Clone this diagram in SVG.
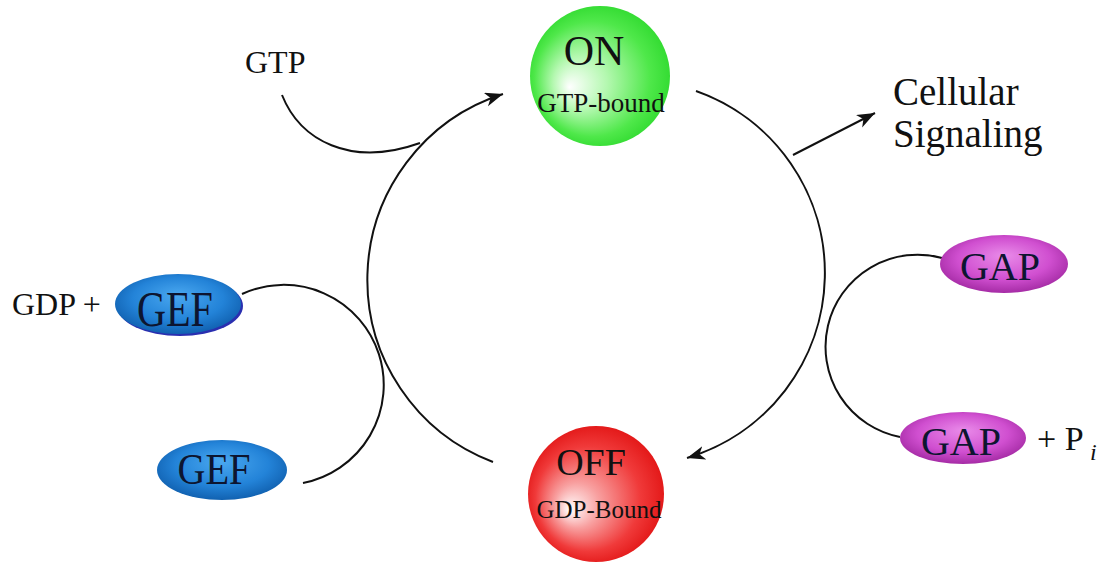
<svg xmlns="http://www.w3.org/2000/svg" width="1104" height="562" viewBox="0 0 1104 562">
<style>
  .t { font-family: "Liberation Serif", "Times New Roman", serif; fill: #111; }
  .c { fill: none; stroke: #111; stroke-width: 2; }
  .in { font-family: "Liberation Serif", "Times New Roman", serif; fill: #0d1530; text-anchor: middle; }
</style>
<defs>
  <radialGradient id="gOn" cx="0.5" cy="0.5" r="0.55" fx="0.28" fy="0.58">
    <stop offset="0" stop-color="#ffffff"/>
    <stop offset="0.35" stop-color="#b4f8b0"/>
    <stop offset="0.75" stop-color="#4fe84a"/>
    <stop offset="1" stop-color="#2bd82b"/>
  </radialGradient>
  <radialGradient id="gOff" cx="0.5" cy="0.5" r="0.55" fx="0.3" fy="0.62">
    <stop offset="0" stop-color="#ffffff"/>
    <stop offset="0.3" stop-color="#f8a0a0"/>
    <stop offset="0.7" stop-color="#f03a3a"/>
    <stop offset="1" stop-color="#e01010"/>
  </radialGradient>
  <radialGradient id="gGef" cx="0.5" cy="0.45" r="0.6" fx="0.5" fy="0.35">
    <stop offset="0" stop-color="#4aa8f0"/>
    <stop offset="0.6" stop-color="#2383d8"/>
    <stop offset="1" stop-color="#0d5aa8"/>
  </radialGradient>
  <radialGradient id="gGap" cx="0.5" cy="0.45" r="0.6" fx="0.5" fy="0.35">
    <stop offset="0" stop-color="#e98be9"/>
    <stop offset="0.6" stop-color="#d04fd0"/>
    <stop offset="1" stop-color="#9c249c"/>
  </radialGradient>
  <marker id="arr" markerUnits="userSpaceOnUse" markerWidth="22" markerHeight="16" refX="18" refY="7" orient="auto">
    <path d="M0,0 L18,7 L0,14 L5,7 Z" fill="#111"/>
  </marker>
</defs>

<g id="connectors">
  <path class="c" d="M282,95 C300,140 350,168 420,143"/>
  <path class="c" d="M493,462 A195,195 0 0 1 503,94" marker-end="url(#arr)"/>
  <path class="c" d="M696,91 A193,193 0 0 1 687,458" marker-end="url(#arr)"/>
  <path class="c" d="M793,155 L875,113" stroke-width="3" marker-end="url(#arr)"/>
  <path class="c" d="M242,294 A100,100 0 1 1 303,483"/>
  <path class="c" d="M942,258 A92,92 0 1 0 900,437"/>
</g>

<g id="on">
  <circle cx="600" cy="76" r="70" fill="url(#gOn)"/>
  <text class="t" x="594" y="65" font-size="42" text-anchor="middle">ON</text>
  <text class="t" x="601" y="112" font-size="27" text-anchor="middle">GTP-bound</text>
</g>

<g id="off">
  <circle cx="596" cy="494" r="68" fill="url(#gOff)"/>
  <text class="t" x="591" y="475" font-size="38" text-anchor="middle">OFF</text>
  <text class="t" x="599" y="518" font-size="25" text-anchor="middle">GDP-Bound</text>
</g>

<g id="gtp">
  <text class="t" x="245" y="73" font-size="32">GTP</text>
</g>

<g id="signaling">
  <text class="t" x="893" y="105" font-size="39">Cellular</text>
  <text class="t" x="893" y="147" font-size="39">Signaling</text>
</g>

<g id="gef-top">
  <text class="t" x="12" y="315" font-size="32">GDP +</text>
  <ellipse cx="180" cy="306" rx="63" ry="30" fill="#2a2fb0"/>
  <ellipse cx="178" cy="304" rx="63" ry="30" fill="url(#gGef)"/>
  <text class="in" x="175" y="326" font-size="50" textLength="76" lengthAdjust="spacingAndGlyphs">GEF</text>
</g>

<g id="gef-bottom">
  <ellipse cx="222" cy="470" rx="65" ry="30" fill="url(#gGef)"/>
  <text class="in" x="214" y="484" font-size="44" textLength="73" lengthAdjust="spacingAndGlyphs">GEF</text>
</g>

<g id="gap-top">
  <ellipse cx="1004" cy="264" rx="64" ry="29" fill="url(#gGap)"/>
  <text class="in" x="1000" y="280" font-size="40">GAP</text>
</g>

<g id="gap-bottom">
  <ellipse cx="963" cy="438" rx="63" ry="26" fill="url(#gGap)"/>
  <text class="in" x="961" y="455" font-size="40">GAP</text>
  <text class="t" x="1037" y="450" font-size="34">+ P</text>
  <text class="t" x="1090" y="460" font-size="24" font-style="italic">i</text>
</g>
</svg>
